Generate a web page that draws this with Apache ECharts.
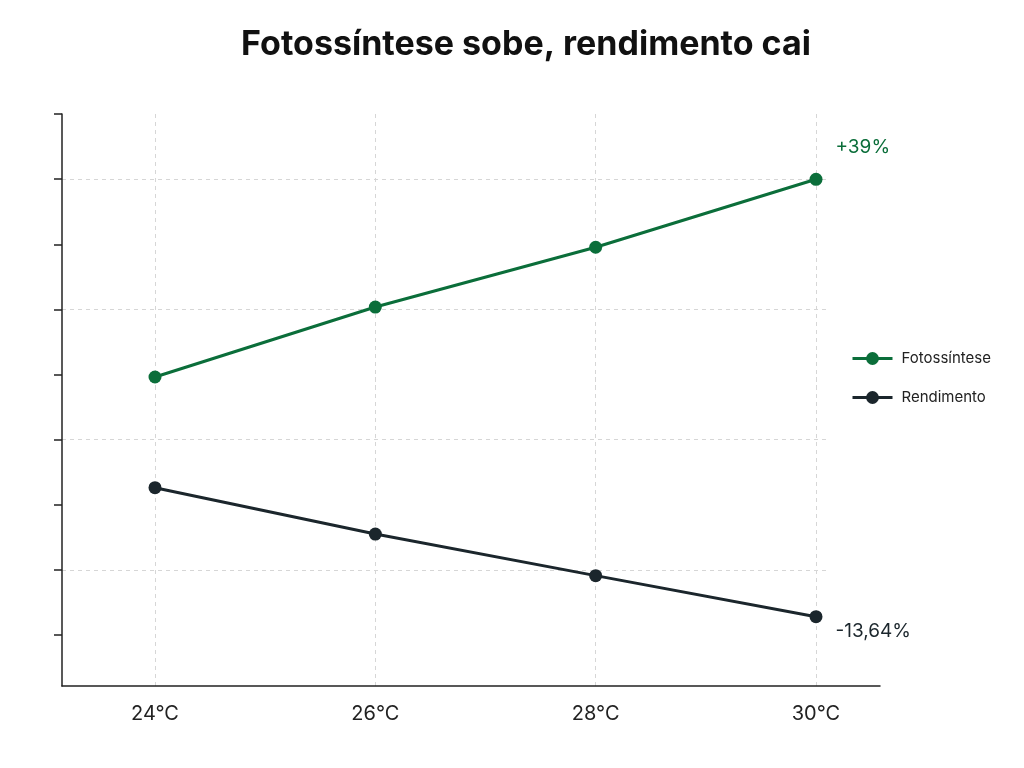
<!DOCTYPE html>
<html>
<head>
<meta charset="utf-8">
<script src="https://cdn.jsdelivr.net/npm/echarts@6/dist/echarts.min.js"></script>
<style>
  html, body { margin: 0; padding: 0; background: #fff; }
  #chart { width: 1024px; height: 768px; }
</style>
</head>
<body>
<div id="chart"></div>
<script>
// valores (variação % em relação a 24°C)
var temperaturas = ['24°C', '26°C', '28°C', '30°C'];
var fotossintese = [0, 13.8, 25.6, 39];
var rendimento = [0, -4.9, -9.3, -13.64];

var verde = '#0b6e3a';
var escuro = '#1b262c';
var cinza = '#d6d6d6';
var fonte = 'Inter, "Noto Sans", sans-serif';

function fimComRotulo(valores, offset, cor) {
  var ultimo = valores.length - 1;
  return valores.map(function (v, i) {
    if (i !== ultimo) return v;
    return {
      value: v,
      label: {
        show: true,
        position: 'right',
        offset: offset,
        color: cor,
        fontSize: 19,
        fontFamily: fonte,
        formatter: function (p) {
          return (p.value > 0 ? '+' : '') + String(p.value).replace('.', ',') + '%';
        }
      }
    };
  });
}

var escondido = { show: false };
var tracejado = { color: cinza, type: [4, 4], width: 1 };

var chart = echarts.init(document.getElementById('chart'));

var option = {
  backgroundColor: '#fff',
  animation: false,
  title: {
    text: 'Fotossíntese sobe, rendimento cai',
    left: 521,
    textAlign: 'center',
    top: 23,
    textStyle: { fontSize: 34, fontWeight: 'bold', color: '#111', fontFamily: fonte }
  },
  legend: {
    data: ['Fotossíntese', 'Rendimento'],
    orient: 'vertical',
    left: 846,
    top: 346,
    itemWidth: 40,
    itemHeight: 16,
    itemGap: 24,
    lineStyle: { width: 3 },
    textStyle: { fontSize: 15, color: '#222', fontFamily: fonte, padding: [0, 0, 0, 4] }
  },
  grid: [
    // moldura: eixos x e y
    { left: 62, right: 144, top: 114, bottom: 82 },
    // dados
    { left: 155, right: 208, top: 114, bottom: 82 },
    // marcas do eixo y
    { left: 62, right: 144, top: 114, bottom: 133 },
    // linhas de grade horizontais
    { left: 62, right: 194, top: 179.1, bottom: 198.1 }
  ],
  xAxis: [
    {
      gridIndex: 0, type: 'value', min: 0, max: 1,
      axisLine: { show: true, onZero: false, lineStyle: { color: '#222', width: 1.5 } },
      axisTick: escondido, axisLabel: escondido, splitLine: escondido
    },
    {
      gridIndex: 1,
      type: 'category',
      data: temperaturas,
      boundaryGap: false,
      axisLine: escondido,
      axisTick: { show: true, length: 11, lineStyle: tracejado },
      axisLabel: { margin: 18, fontSize: 20, color: '#222', fontFamily: fonte },
      splitLine: { show: true, lineStyle: tracejado }
    },
    { gridIndex: 2, type: 'value', min: 0, max: 1, show: false },
    { gridIndex: 3, type: 'value', min: 0, max: 1, show: false }
  ],
  yAxis: [
    {
      gridIndex: 0, type: 'value', min: 0, max: 1,
      axisLine: { show: true, onZero: false, lineStyle: { color: '#222', width: 1.5 } },
      axisTick: escondido, axisLabel: escondido, splitLine: escondido
    },
    { gridIndex: 1, type: 'value', min: -60.95, max: 51.88, show: false, splitLine: escondido },
    { gridIndex: 1, type: 'value', min: -20.97, max: 39.52, show: false, splitLine: escondido },
    {
      gridIndex: 2, type: 'value', min: 0, max: 8, interval: 1,
      axisLine: { show: false, onZero: false },
      axisTick: { show: true, length: 8, lineStyle: { color: '#222', width: 1.5 } },
      axisLabel: escondido, splitLine: escondido
    },
    {
      gridIndex: 3, type: 'value', min: 0, max: 3, interval: 1,
      axisLine: { show: false, onZero: false },
      axisTick: escondido, axisLabel: escondido,
      splitLine: { show: true, lineStyle: tracejado }
    }
  ],
  series: [
    {
      name: 'Fotossíntese',
      type: 'line',
      xAxisIndex: 1,
      yAxisIndex: 1,
      data: fimComRotulo(fotossintese, [8, -32], verde),
      color: verde,
      symbol: 'circle',
      symbolSize: 13,
      lineStyle: { width: 3, color: verde },
      itemStyle: { color: verde },
      z: 3
    },
    {
      name: 'Rendimento',
      type: 'line',
      xAxisIndex: 1,
      yAxisIndex: 2,
      data: fimComRotulo(rendimento, [8, 15], escuro),
      color: escuro,
      symbol: 'circle',
      symbolSize: 13,
      lineStyle: { width: 3, color: escuro },
      itemStyle: { color: escuro },
      z: 3
    }
  ]
};

chart.setOption(option);
</script>
</body>
</html>
